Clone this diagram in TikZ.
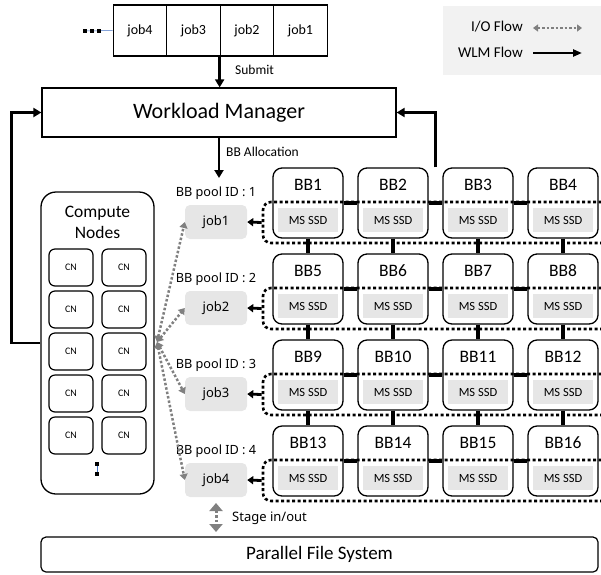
\documentclass[tikz,border=0pt]{standalone}
\usepackage{fontspec}
\setmainfont{Carlito}
\newfontfamily\nsans{Noto Sans}
\usetikzlibrary{arrows.meta,calc}
\definecolor{gfill}{HTML}{E6E6E6}
\definecolor{lfill}{HTML}{F2F2F2}
\definecolor{iogray}{HTML}{808080}
\definecolor{selblue}{HTML}{4472C4}
\tikzset{
 qbox/.style={draw, line width=1.2pt, minimum width=53.5pt, minimum height=51pt, inner sep=0pt, font=\fontsize{14}{16}\selectfont},
 wmbox/.style={draw, line width=1.2pt, minimum width=354pt, minimum height=49pt, inner sep=0pt, font=\fontsize{22}{25}\selectfont},
 wlm/.style={line width=2.8pt, -{Triangle[length=8pt,width=9pt]}},
 lbl/.style={font=\fontsize{13.5}{15}\selectfont, anchor=west, inner sep=0pt},
 bbbox/.style={draw, line width=1.3pt, rounded corners=9pt, minimum width=70pt, minimum height=70pt, fill=white, inner sep=0pt},
 bbtitle/.style={font=\fontsize{17.5}{19}\selectfont, inner sep=0pt},
 ssd/.style={fill=gfill, minimum width=60pt, minimum height=24pt, inner sep=0pt, font=\fontsize{12.5}{14}\selectfont},
 pool/.style={draw, line width=2.6pt, dash pattern=on 3pt off 2.5pt, rounded corners=8pt, minimum width=352pt, minimum height=41pt, inner sep=0pt},
 link/.style={line width=4pt},
 jobbox/.style={fill=gfill, rounded corners=5pt, minimum width=62pt, minimum height=34pt, inner sep=0pt, font=\nsans\fontsize{13}{15}\selectfont},
 poolid/.style={font=\nsans\fontsize{12.7}{14}\selectfont, inner sep=0pt},
 pjarrow/.style={line width=2.8pt, -{Triangle[length=6pt,width=8pt]}},
 ioflow/.style={draw=iogray, line width=2.5pt, dash pattern=on 2.5pt off 2pt, {Triangle[length=6pt,width=8pt]}-{Triangle[length=6pt,width=8pt]}},
 cnbig/.style={draw, line width=1.3pt, rounded corners=15pt, minimum width=113pt, minimum height=302pt, inner sep=0pt},
 cnsmall/.style={draw, line width=1.2pt, rounded corners=6pt, minimum width=44pt, minimum height=37pt, inner sep=0pt, font=\fontsize{10}{12}\selectfont},
 pfsbox/.style={draw, line width=1.2pt, rounded corners=5pt, minimum width=557pt, minimum height=35pt, inner sep=0pt, font=\fontsize{19}{21}\selectfont},
 legtext/.style={font=\fontsize{15}{17}\selectfont, inner sep=0pt, anchor=east},
 sqdots/.style={line width=4pt, dash pattern=on 4pt off 3pt},
 selline/.style={draw=selblue, line width=0.5pt}
}
\begin{document}
\begin{tikzpicture}[x=1pt,y=-1pt]
\useasboundingbox (0,0) rectangle (601,574);

% legend
\node[fill=lfill, minimum width=158pt, minimum height=69pt, inner sep=0pt] (legend) at (522,40.5) {};
\node[legtext] (liof) at (523,27) {I/O Flow};
\node[legtext] (lwlm) at (523,52) {WLM Flow};
\coordinate (lioa) at (533,28);
\coordinate (liob) at (582,28);
\coordinate (lwa) at (533,53);
\coordinate (lwb) at (582,53);
\draw[ioflow, {Triangle[length=5pt,width=7pt]}-{Triangle[length=5pt,width=7pt]}, line width=2pt] (lioa) -- (liob);
\draw[wlm, -{Triangle[length=9pt,width=7pt]}] (lwa) -- (lwb);

% job queue
\node[qbox] (jq4) at (140,30.5) {job4};
\node[qbox] (jq3) at (193.5,30.5) {job3};
\node[qbox] (jq2) at (247,30.5) {job2};
\node[qbox] (jq1) at (300.5,30.5) {job1};
\coordinate (qdots) at (83,31);
\coordinate (qdotsend) at (101,31);
\draw[selline] (qdots) -- (jq4.west);
\draw[sqdots] (qdots) -- (qdotsend);

% workload manager
\node[wmbox] (wm) at (219,112.5) {Workload Manager};
\draw[wlm] (jq2.south west) -- (wm.north -| jq2.south west);
\node[lbl] (lsubmit) at (235,70) {Submit};
\coordinate (alloc) at (219,178);
\draw[wlm] (wm.south) -- (alloc);
\node[lbl] (lalloc) at (226,152) {BB Allocation};

% compute nodes
\node[cnbig] (cn) at (97.5,343) {};
\node[font=\fontsize{17.5}{21}\selectfont, align=center, inner sep=0pt] (cntitle) at (97.5,222) {Compute\\Nodes};
\foreach \k in {0,...,4} {
  \node[cnsmall] (cna\k) at (71,{267.5+42*\k}) {CN};
  \node[cnsmall] (cnb\k) at (124,{267.5+42*\k}) {CN};
}
\coordinate (cdota) at (97,462);
\coordinate (cdotb) at (97,476);
\draw[selline] (97,464) -- (97,474);
\draw[line width=4pt, dash pattern=on 4pt off 6pt] (cdota) -- (cdotb);

% burst buffers
\foreach \r in {0,...,3} {
  \foreach \c in {0,...,3} {
    \pgfmathtruncatemacro\n{4*\r+\c+1}
    \node[bbbox] (bb\n) at ({308+85*\c},{203+86*\r}) {};
    \node[bbtitle] (bbt\n) at ({308+85*\c},{185+86*\r}) {BB\n};
    \node[ssd] (ssd\n) at ({308+85*\c},{220+86*\r}) {MS SSD};
  }
}

% pools, jobs
\foreach \r in {1,...,4} {
  \node[pool] (pool\r) at (439,{222.5+86*(\r-1)}) {};
  \node[jobbox] (job\r) at (216,{222+86*(\r-1)}) {job\r};
  \node[poolid] (pid\r) at (216,{193+86*(\r-1)}) {BB pool ID : \r};
  \draw[pjarrow] (pool\r.west) -- (job\r.east);
}

% links
\foreach \r in {0,...,3} {
  \foreach \c in {1,...,3} {
    \pgfmathtruncatemacro\a{4*\r+\c}
    \pgfmathtruncatemacro\b{4*\r+\c+1}
    \draw[link] (bb\a.east) -- (bb\b.west);
  }
}
\foreach \r in {0,...,2} {
  \foreach \c in {1,...,4} {
    \pgfmathtruncatemacro\a{4*\r+\c}
    \pgfmathtruncatemacro\b{4*\r+\c+4}
    \draw[link] (bb\a.south) -- (bb\b.north);
  }
}

% WLM feedback arrows
\draw[wlm] (cn.west) -- ++(-29,0) |- (wm.west);
\coordinate (rs) at ($(bb2.north east)!0.5!(bb3.north west)$);
\draw[wlm] (rs) |- (wm.east);

% I/O flow
\coordinate (ios) at (157,342);
\foreach \r in {1,...,4} {
  \draw[ioflow] (ios) -- (job\r.west);
}

% PFS
\node[pfsbox] (pfs) at (319.5,554.5) {Parallel File System};
\coordinate (sta) at (216,503);
\coordinate (stb) at (216,532);
\draw[ioflow, {Triangle[length=8pt,width=13pt]}-{Triangle[length=8pt,width=13pt]}, line width=3pt] (sta) -- (stb);
\node[lbl, font=\nsans\fontsize{13}{15}\selectfont] (lstage) at (232,518) {Stage in/out};
\end{tikzpicture}
\end{document}
